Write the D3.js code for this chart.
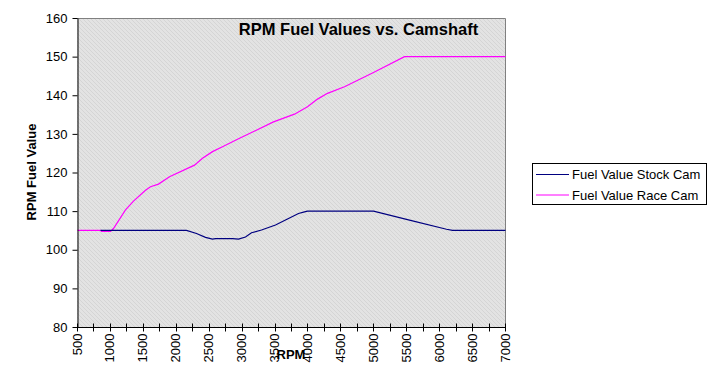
<!DOCTYPE html>
<html><head><meta charset="utf-8">
<script src="https://cdn.jsdelivr.net/npm/d3@7"></script>
<style>
body{margin:0;background:#fff;}
svg{display:block;font-family:"Liberation Sans",Arial,sans-serif;}
</style></head>
<body><svg id="c" width="718" height="374"></svg>
<script>
const title = "RPM Fuel Values vs. Camshaft";
const xTitle = "RPM";
const yTitle = "RPM Fuel Value";
const seriesNames = ["Fuel Value Stock Cam", "Fuel Value Race Cam"];
const seriesColors = ["#000080", "#ff00ff"];
const xTickLabels = [500,1000,1500,2000,2500,3000,3500,4000,4500,5000,5500,6000,6500,7000];
const yTickLabels = [80,90,100,110,120,130,140,150,160];

const stockRpm = [850,2150,2300,2450,2550,2600,2850,2950,3050,3150,3300,3500,3700,3850,3950,4000,5000,5550,6100,6200,7000];
const stockVal = [105,105,104.2,103.2,102.75,102.9,102.9,102.75,103.3,104.4,105.1,106.4,108.1,109.4,109.8,110,110,107.6,105.3,105,105];
const raceRpm = [500,850,870,1000,1050,1230,1350,1530,1610,1730,1890,2270,2400,2550,2720,2930,3480,3790,3990,4150,4290,4550,5000,5470,7000];
const raceVal = [105,105,104.75,104.75,105.5,110.3,112.6,115.4,116.3,117.0,118.9,121.9,123.7,125.4,126.8,128.6,133.1,135.1,137.0,139.0,140.5,142.2,145.9,150,150];

const svg = d3.select("#c");
const L=77, R=505, T=18, B=327;
const x = d3.scaleLinear().domain([500,7000]).range([L,R]);
const y = d3.scaleLinear().domain([80,160]).range([B,T]);

const defs = svg.append("defs");
const pat = defs.append("pattern").attr("id","hatch").attr("patternUnits","userSpaceOnUse")
  .attr("width",4).attr("height",4);
pat.append("rect").attr("width",4).attr("height",4).attr("fill","#e3e3e3");
pat.append("path").attr("d","M0,0 L4,4 M3,-1 L5,1 M-1,3 L1,5").attr("stroke","#d5d5d5").attr("stroke-width",1);

svg.append("rect").attr("x",L).attr("y",T).attr("width",R-L).attr("height",B-T)
  .attr("fill","url(#hatch)");
svg.append("path").attr("d",`M${L},${T+0.5}H${R+0.5}V${B}`).attr("fill","none").attr("stroke","#808080");

// series
const line = d3.line().x(d=>Math.round(x(d[0]))+0.5).y(d=>y(d[1]));
const stock = stockRpm.map((r,i)=>[r,stockVal[i]]);
const race = raceRpm.map((r,i)=>[r,raceVal[i]]);
svg.append("path").datum(race).attr("d",line).attr("fill","none").attr("stroke",seriesColors[1]).attr("stroke-width",1.2);
svg.append("path").datum(stock).attr("d",line).attr("fill","none").attr("stroke",seriesColors[0]).attr("stroke-width",1.2);

// y axis
const yAx = svg.append("g").attr("transform",`translate(${L+0.5},0)`)
  .call(d3.axisLeft(y).tickValues(yTickLabels).tickSize(5).tickPadding(5).tickSizeOuter(0));
yAx.select(".domain").attr("stroke","#000");
yAx.selectAll("text").attr("font-size",13).attr("fill","#000").attr("font-family","Liberation Sans, Arial, sans-serif");

// x axis
const minorTicks = d3.range(500,7001,250);
const xAx = svg.append("g").attr("transform",`translate(0,${B+0.5})`);
xAx.append("line").attr("x1",L).attr("x2",R+1).attr("stroke","#000");
xAx.selectAll("line.t").data(minorTicks).join("line").attr("class","t")
  .attr("x1",d=>Math.round(x(d))+0.5).attr("x2",d=>Math.round(x(d))+0.5).attr("y1",-4).attr("y2",4).attr("stroke","#000");
xAx.selectAll("text").data(xTickLabels).join("text")
  .attr("transform",d=>`translate(${x(d)},6) rotate(-90)`)
  .attr("text-anchor","end").attr("dy","0.35em").attr("font-size",13).text(d=>d);

// titles
svg.append("text").attr("x",358.5).attr("y",35).attr("text-anchor","middle")
  .attr("font-size",16.5).attr("font-weight","bold").text(title);
svg.append("text").attr("transform","translate(36,172) rotate(-90)").attr("text-anchor","middle")
  .attr("font-size",13).attr("font-weight","bold").text(yTitle);
svg.append("text").attr("x",291).attr("y",359).attr("text-anchor","middle")
  .attr("font-size",13).attr("font-weight","bold").text(xTitle);

// legend
const lg = svg.append("g");
lg.append("rect").attr("x",532.5).attr("y",163.5).attr("width",174).attr("height",41)
  .attr("fill","#fff").attr("stroke","#000");
seriesNames.forEach((n,i)=>{
  const yy = 174.5 + i*20.5;
  lg.append("line").attr("x1",536).attr("x2",569).attr("y1",yy).attr("y2",yy)
    .attr("stroke",seriesColors[i]).attr("stroke-width",1.2);
  lg.append("text").attr("x",572).attr("y",yy).attr("dy","0.35em").attr("font-size",13).text(n);
});
</script></body></html>
